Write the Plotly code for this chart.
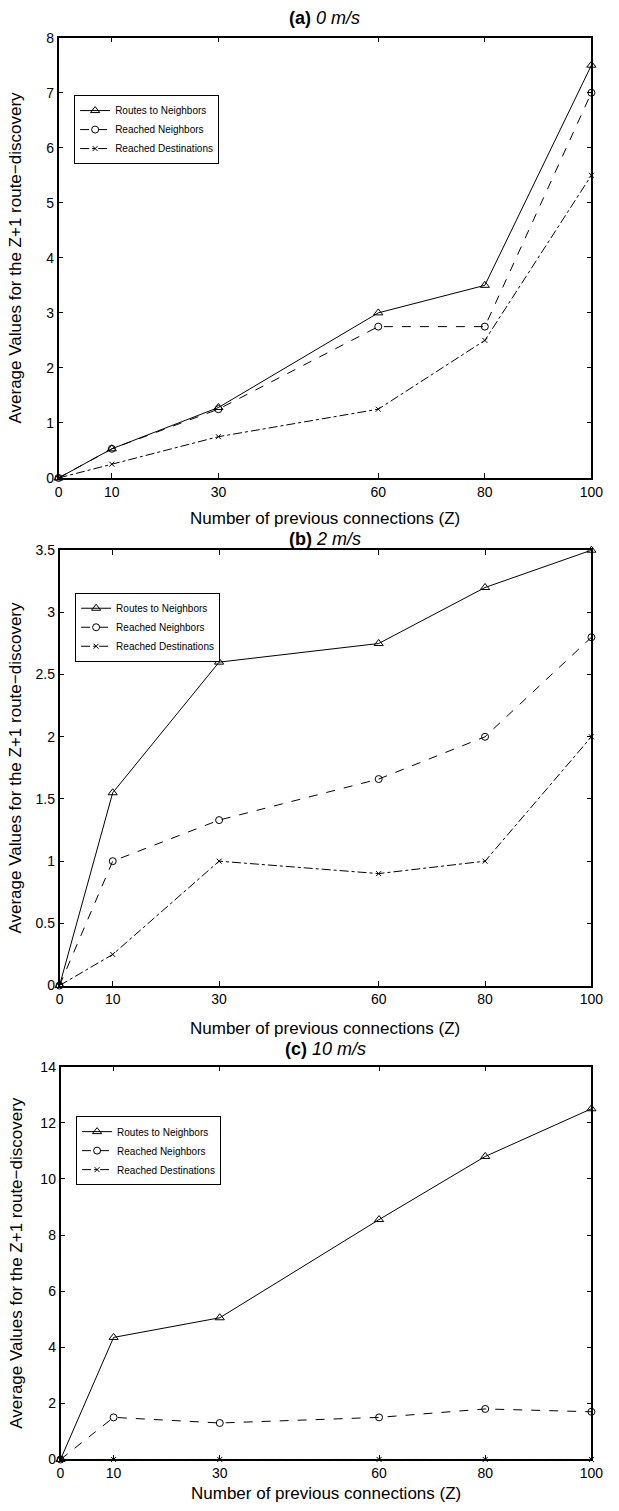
import plotly.graph_objects as go

# ---------------- data ----------------
Z = [0, 10, 30, 60, 80, 100]
x_tick_labels = ["0", "10", "30", "60", "80", "100"]
series_names = ["Routes to Neighbors", "Reached Neighbors", "Reached Destinations"]

a_routes = [0, 0.53, 1.28, 3.0, 3.5, 7.5]
a_reached_nb = [0, 0.53, 1.25, 2.75, 2.75, 7.0]
a_reached_dst = [0, 0.25, 0.75, 1.25, 2.5, 5.5]

b_routes = [0, 1.55, 2.6, 2.75, 3.2, 3.5]
b_reached_nb = [0, 1.0, 1.33, 1.66, 2.0, 2.8]
b_reached_dst = [0, 0.25, 1.0, 0.9, 1.0, 2.0]

c_routes = [0, 4.35, 5.05, 8.55, 10.8, 12.5]
c_reached_nb = [0, 1.5, 1.3, 1.5, 1.8, 1.7]
c_reached_dst = [0, 0, 0, 0, 0, 0]

a_yticks = [0, 1, 2, 3, 4, 5, 6, 7, 8]
b_yticks = [0, 0.5, 1, 1.5, 2, 2.5, 3, 3.5]
c_yticks = [0, 2, 4, 6, 8, 10, 12, 14]

panel_labels = ["(a)", "(b)", "(c)"]
panel_speeds = ["0 m/s", "2 m/s", "10 m/s"]
x_title = "Number of previous connections (Z)"
y_title = "Average Values for the Z+1 route\u2212discovery"

# ---------------- layout helpers ----------------
W, H = 619, 1511
FONT = "Liberation Sans, Arial, Helvetica, sans-serif"


def fx(px):
    return px / W


def fy(py):
    return 1 - py / H


panels = [
    dict(data=(a_routes, a_reached_nb, a_reached_dst), yt=a_yticks,
         left=56, right=603, top=30, bottom=475, title_c=10, xt_c=516,
         leg=(72, 88)),
    dict(data=(b_routes, b_reached_nb, b_reached_dst), yt=b_yticks,
         left=57, right=603, top=548, bottom=988, title_c=537, xt_c=1031,
         leg=(73, 591)),
    dict(data=(c_routes, c_reached_nb, c_reached_dst), yt=c_yticks,
         left=58, right=603, top=1070, bottom=1467, title_c=1052, xt_c=1501,
         leg=(74, 1120)),
]

styles = [
    dict(dash="solid", symbol="triangle-up-open", size=8),
    dict(dash="dash", symbol="circle-open", size=7),
    dict(dash="dashdot", symbol="x-thin-open", size=5),
]

fig = go.Figure()
annotations = []
layout = dict(
    width=W, height=H,
    margin=dict(l=0, r=0, t=0, b=0),
    paper_bgcolor="white", plot_bgcolor="white",
    font=dict(family=FONT, color="black", size=14),
    showlegend=True,
)

for i, p in enumerate(panels):
    n = "" if i == 0 else str(i + 1)
    xa, ya = "x" + n, "y" + n
    leg = "legend" + n
    for k, (vals, st) in enumerate(zip(p["data"], styles)):
        fig.add_trace(go.Scatter(
            x=Z, y=vals, name=series_names[k], mode="lines+markers",
            xaxis=xa, yaxis=ya, legend=leg, cliponaxis=False,
            line=dict(color="black", width=1, dash=st["dash"]),
            marker=dict(symbol=st["symbol"], size=st["size"], color="black",
                        line=dict(color="black", width=1)),
        ))
    yt = p["yt"]
    layout["xaxis" + n] = dict(
        domain=[fx(p["left"]), fx(p["right"])], anchor=ya,
        range=[0, 100], tickvals=Z, ticktext=x_tick_labels,
        showline=True, linecolor="black", linewidth=1.5, mirror="allticks",
        ticks="inside", ticklen=5, tickcolor="black", tickwidth=1,
        showgrid=False, zeroline=False, tickfont=dict(size=14, family=FONT),
    )
    layout["yaxis" + n] = dict(
        domain=[fy(p["bottom"]), fy(p["top"])], anchor=xa,
        range=[0, yt[-1]], tickvals=yt, ticktext=[f"{v:g}" for v in yt],
        showline=True, linecolor="black", linewidth=1.5, mirror="allticks",
        ticks="inside", ticklen=5, tickcolor="black", tickwidth=1,
        showgrid=False, zeroline=False, tickfont=dict(size=14, family=FONT),
    )
    layout[leg] = dict(
        x=fx(p["leg"][0]), y=fy(p["leg"][1]), xanchor="left", yanchor="top",
        bgcolor="white", bordercolor="black", borderwidth=1,
        font=dict(size=10, family=FONT), tracegroupgap=0,
        itemwidth=30,
    )
    cx = fx((p["left"] + p["right"]) / 2)
    annotations.append(dict(
        text=f"<b>{panel_labels[i]}</b> <i>{panel_speeds[i]}</i>",
        x=cx, y=fy(p["title_c"]), xref="paper", yref="paper",
        xanchor="center", yanchor="middle", showarrow=False,
        font=dict(size=18, family=FONT)))
    annotations.append(dict(
        text=x_title,
        x=cx, y=fy(p["xt_c"]), xref="paper", yref="paper",
        xanchor="center", yanchor="middle", showarrow=False,
        font=dict(size=17, family=FONT)))
    annotations.append(dict(
        text=y_title,
        x=fx(12), y=fy((p["top"] + p["bottom"]) / 2), xref="paper", yref="paper",
        xanchor="center", yanchor="middle", showarrow=False, textangle=-90,
        font=dict(size=17, family=FONT)))

layout["annotations"] = annotations
fig.update_layout(**layout)
fig.write_html("out.html")
